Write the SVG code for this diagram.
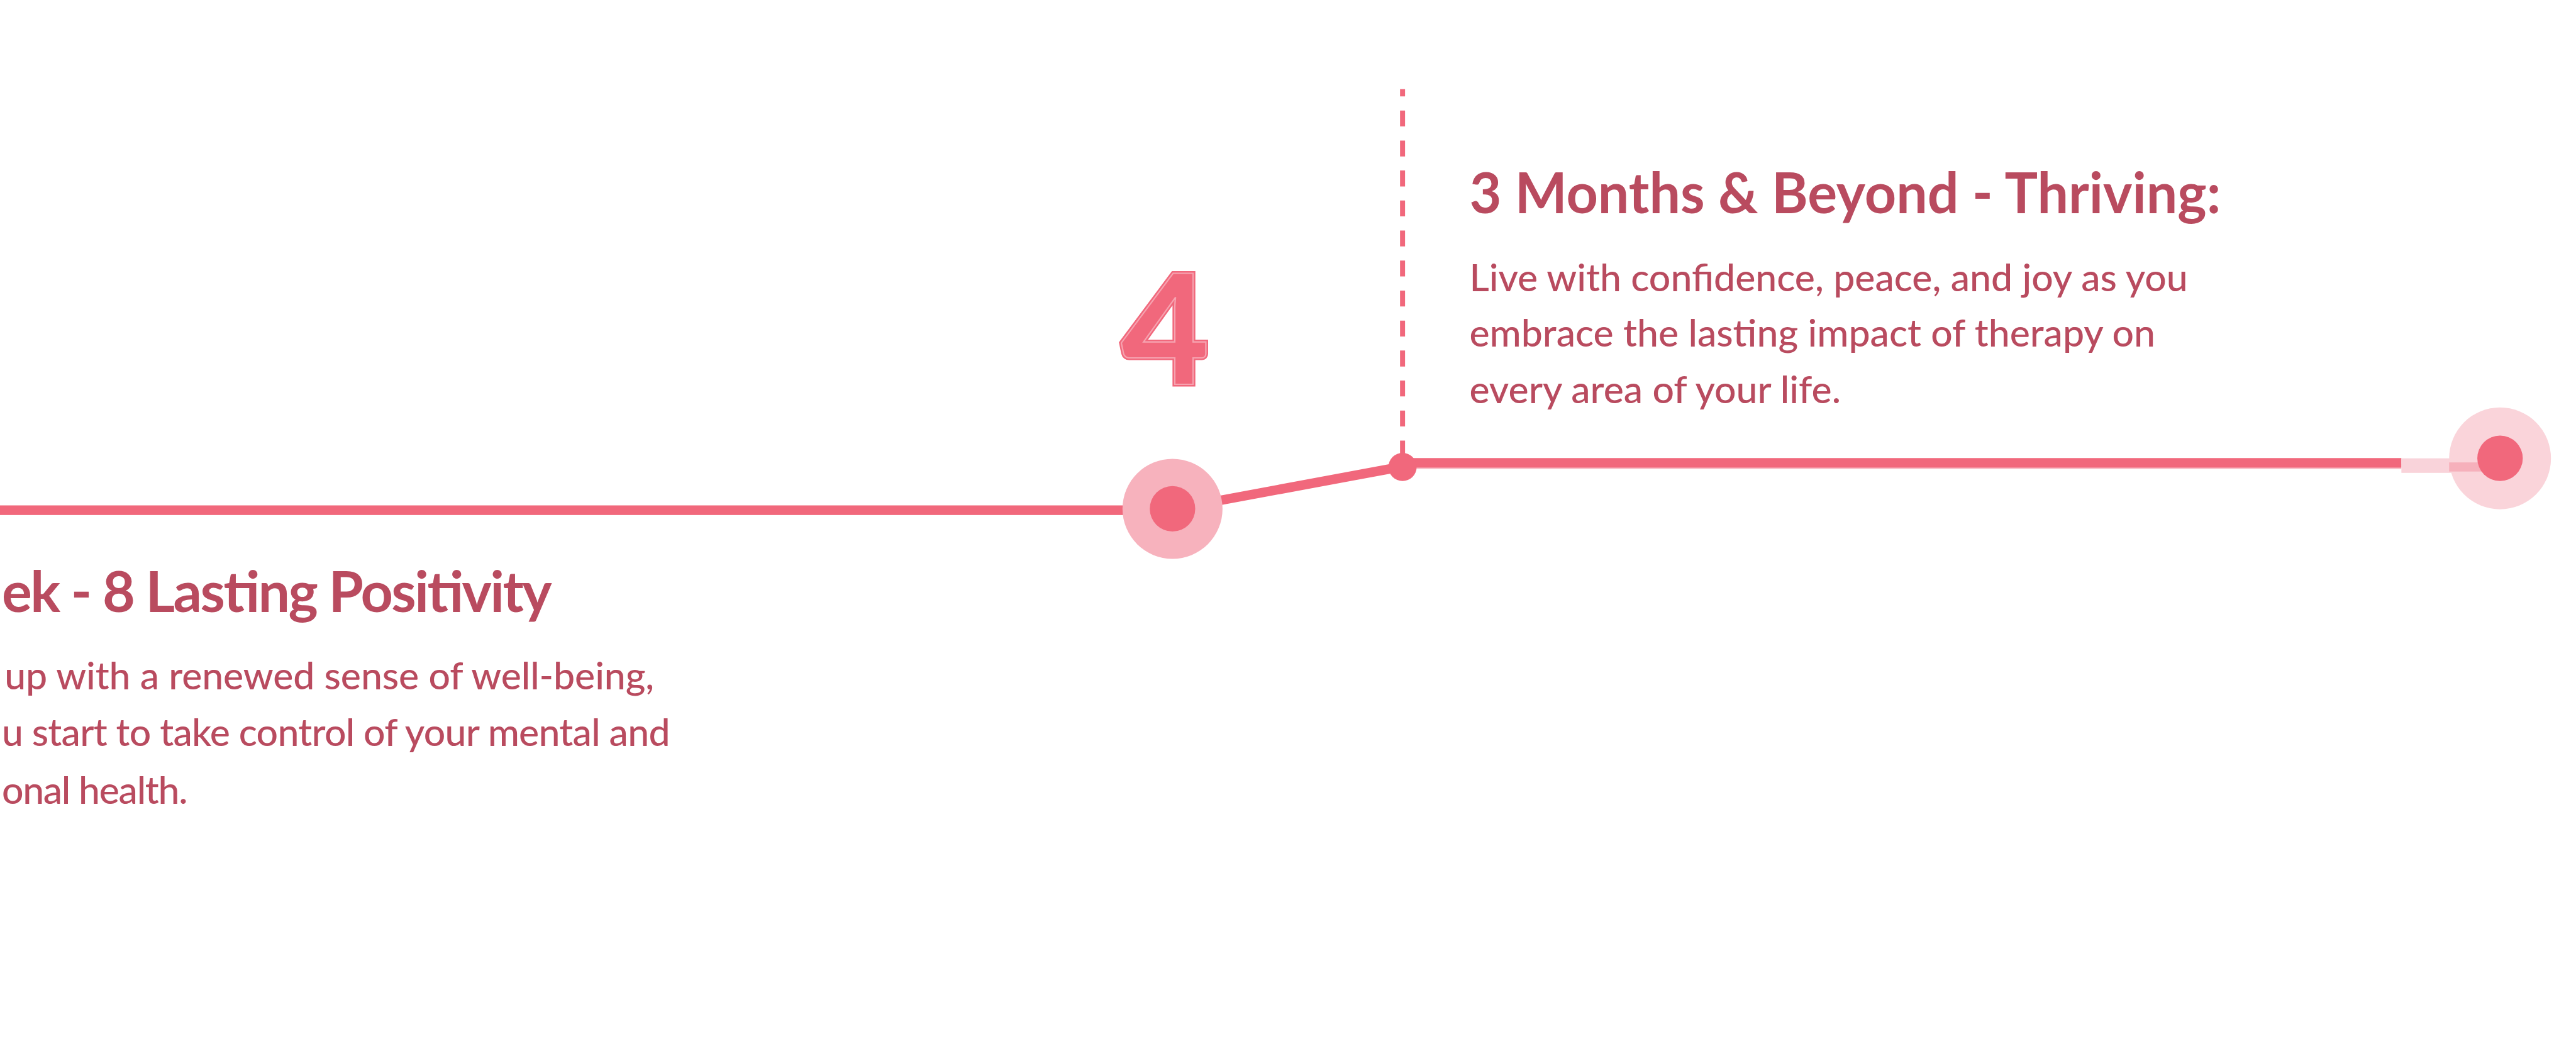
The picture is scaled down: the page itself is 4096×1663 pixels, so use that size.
<svg xmlns="http://www.w3.org/2000/svg" width="4096" height="1663" viewBox="0 0 4096 1663">
<style>
.title{font-family:Lato,"Liberation Sans",sans-serif;font-weight:700;font-size:124px;fill:#B94B5F}
.body{font-family:Lato,"Liberation Sans",sans-serif;font-weight:500;font-size:84px;fill:#B94B5F}
.big{font-family:Lato,"Liberation Sans",sans-serif;font-weight:900;font-size:335px}
</style>
<rect width="4096" height="1663" fill="#FFFFFF"/>
<g transform="scale(0.72290)">
<g id="connectors">
<line x1="0" y1="1128" x2="2579" y2="1128" stroke="#FAC8D0" stroke-width="10"/>
<line x1="0" y1="1122" x2="2579" y2="1122" stroke="#F1687C" stroke-width="21"/>
<line x1="2579" y1="1120" x2="3085" y2="1026" stroke="#F1687C" stroke-width="21"/>
<line x1="3085" y1="196" x2="3085" y2="1000" stroke="#F1687C" stroke-width="11" stroke-dasharray="35 31" stroke-dashoffset="19"/>
<line x1="3085" y1="1026" x2="5282" y2="1026" stroke="#F8C3CB" stroke-width="12"/>
<line x1="3085" y1="1018" x2="5282" y2="1018" stroke="#F1687C" stroke-width="21"/>
<rect x="5282" y="1008" width="120" height="32" fill="#F9D3DA"/>
</g>
<g id="node-4">
<circle cx="2579" cy="1119" r="110" fill="#F7B2BD"/>
<circle cx="2579" cy="1119" r="50" fill="#F1687C"/>
<text x="2466" y="845" class="big" fill="#F1687C" stroke="#F1687C" stroke-width="10" stroke-linejoin="miter">4</text>
<text x="2466" y="845" class="big" fill="none" stroke="#F6A3B0" stroke-width="3" stroke-linejoin="miter">4</text>
</g>
<g id="node-left-text">
<text x="4" y="1346" class="title" textLength="1210" lengthAdjust="spacing">ek - 8 Lasting Positivity</text>
<text x="10" y="1516" class="body" textLength="1429" lengthAdjust="spacing">up with a renewed sense of well-being,</text>
<text x="4" y="1641" class="body" textLength="1470" lengthAdjust="spacing">u start to take control of your mental and</text>
<text x="4" y="1768" class="body" textLength="409" lengthAdjust="spacing">onal health.</text>
</g>
<g id="node-junction">
<circle cx="3085" cy="1027" r="31" fill="#F1687C"/>
</g>
<g id="node-3-months">
<text x="3232" y="469" class="title" textLength="1653" lengthAdjust="spacingAndGlyphs">3 Months &amp; Beyond - Thriving:</text>
<text x="3232" y="640" class="body">Live with confidence, peace, and joy as you</text>
<text x="3232" y="762" class="body">embrace the lasting impact of therapy on</text>
<text x="3232" y="887" class="body">every area of your life.</text>
</g>
<g id="node-end">
<circle cx="5499" cy="1008" r="112" fill="#FAD4DA"/>
<rect x="5387" y="1017" width="75" height="20" fill="#F6B0BB"/>
<circle cx="5499" cy="1008" r="50" fill="#F1687C"/>
</g>
</g>
</svg>
